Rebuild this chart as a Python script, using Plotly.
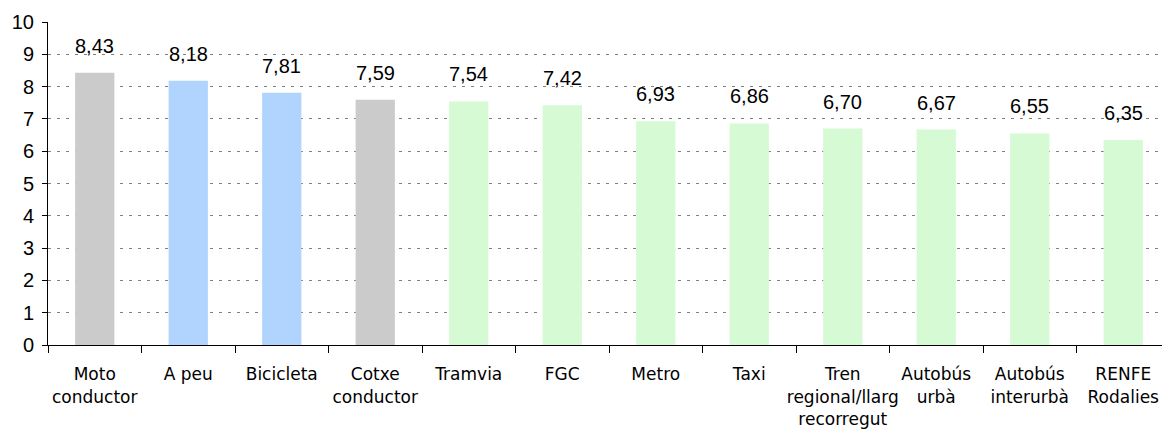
import plotly.graph_objects as go

categories = ["Moto<br>conductor", "A peu", "Bicicleta", "Cotxe<br>conductor", "Tramvia", "FGC",
              "Metro", "Taxi", "Tren<br>regional/llarg<br>recorregut", "Autobús<br>urbà",
              "Autobús<br>interurbà", "RENFE<br>Rodalies"]
values = [8.43, 8.18, 7.81, 7.59, 7.54, 7.42, 6.93, 6.86, 6.70, 6.67, 6.55, 6.35]
value_labels = ["8,43", "8,18", "7,81", "7,59", "7,54", "7,42", "6,93", "6,86", "6,70", "6,67", "6,55", "6,35"]
groups = ["gray", "blue", "blue", "gray", "green", "green", "green", "green", "green", "green", "green", "green"]

palette = {"gray": "#CBCBCB", "blue": "#B0D4FE", "green": "#D6FAD4"}
colors = [palette[g] for g in groups]

fig = go.Figure()
fig.add_trace(go.Bar(x=categories, y=values, marker=dict(color=colors, line=dict(width=0)),
                     width=0.42, hoverinfo="skip"))

for c, v, t in zip(categories, values, value_labels):
    fig.add_annotation(x=c, y=v, text=t, showarrow=False, yanchor="middle", yshift=27,
                       font=dict(family="Liberation Sans, Arial", size=20, color="#000000"))

fig.update_layout(
    width=1162, height=422,
    margin=dict(l=40, r=0, t=14, b=85, autoexpand=False),
    plot_bgcolor="white", paper_bgcolor="white",
    showlegend=False,
)
fig.update_xaxes(
    type="category", automargin=False, showline=True, linecolor="black", linewidth=1,
    ticks="outside", tickson="boundaries", ticklen=7, tickcolor="black",
    tickangle=0, ticklabelstandoff=14,
    tickfont=dict(family="DejaVu Sans", size=17, color="#000000"),
    showgrid=False,
)
fig.update_yaxes(
    range=[0, 10], dtick=1, automargin=False, showline=True, linecolor="black", linewidth=1,
    ticks="outside", ticklen=5, tickcolor="black", ticklabelstandoff=4,
    tickfont=dict(family="Liberation Sans, Arial", size=20, color="#000000"),
    showgrid=True, gridcolor="#7F7F7F", gridwidth=1, griddash="3px,6px",
    zeroline=False,
)

fig.write_html("out.html")
